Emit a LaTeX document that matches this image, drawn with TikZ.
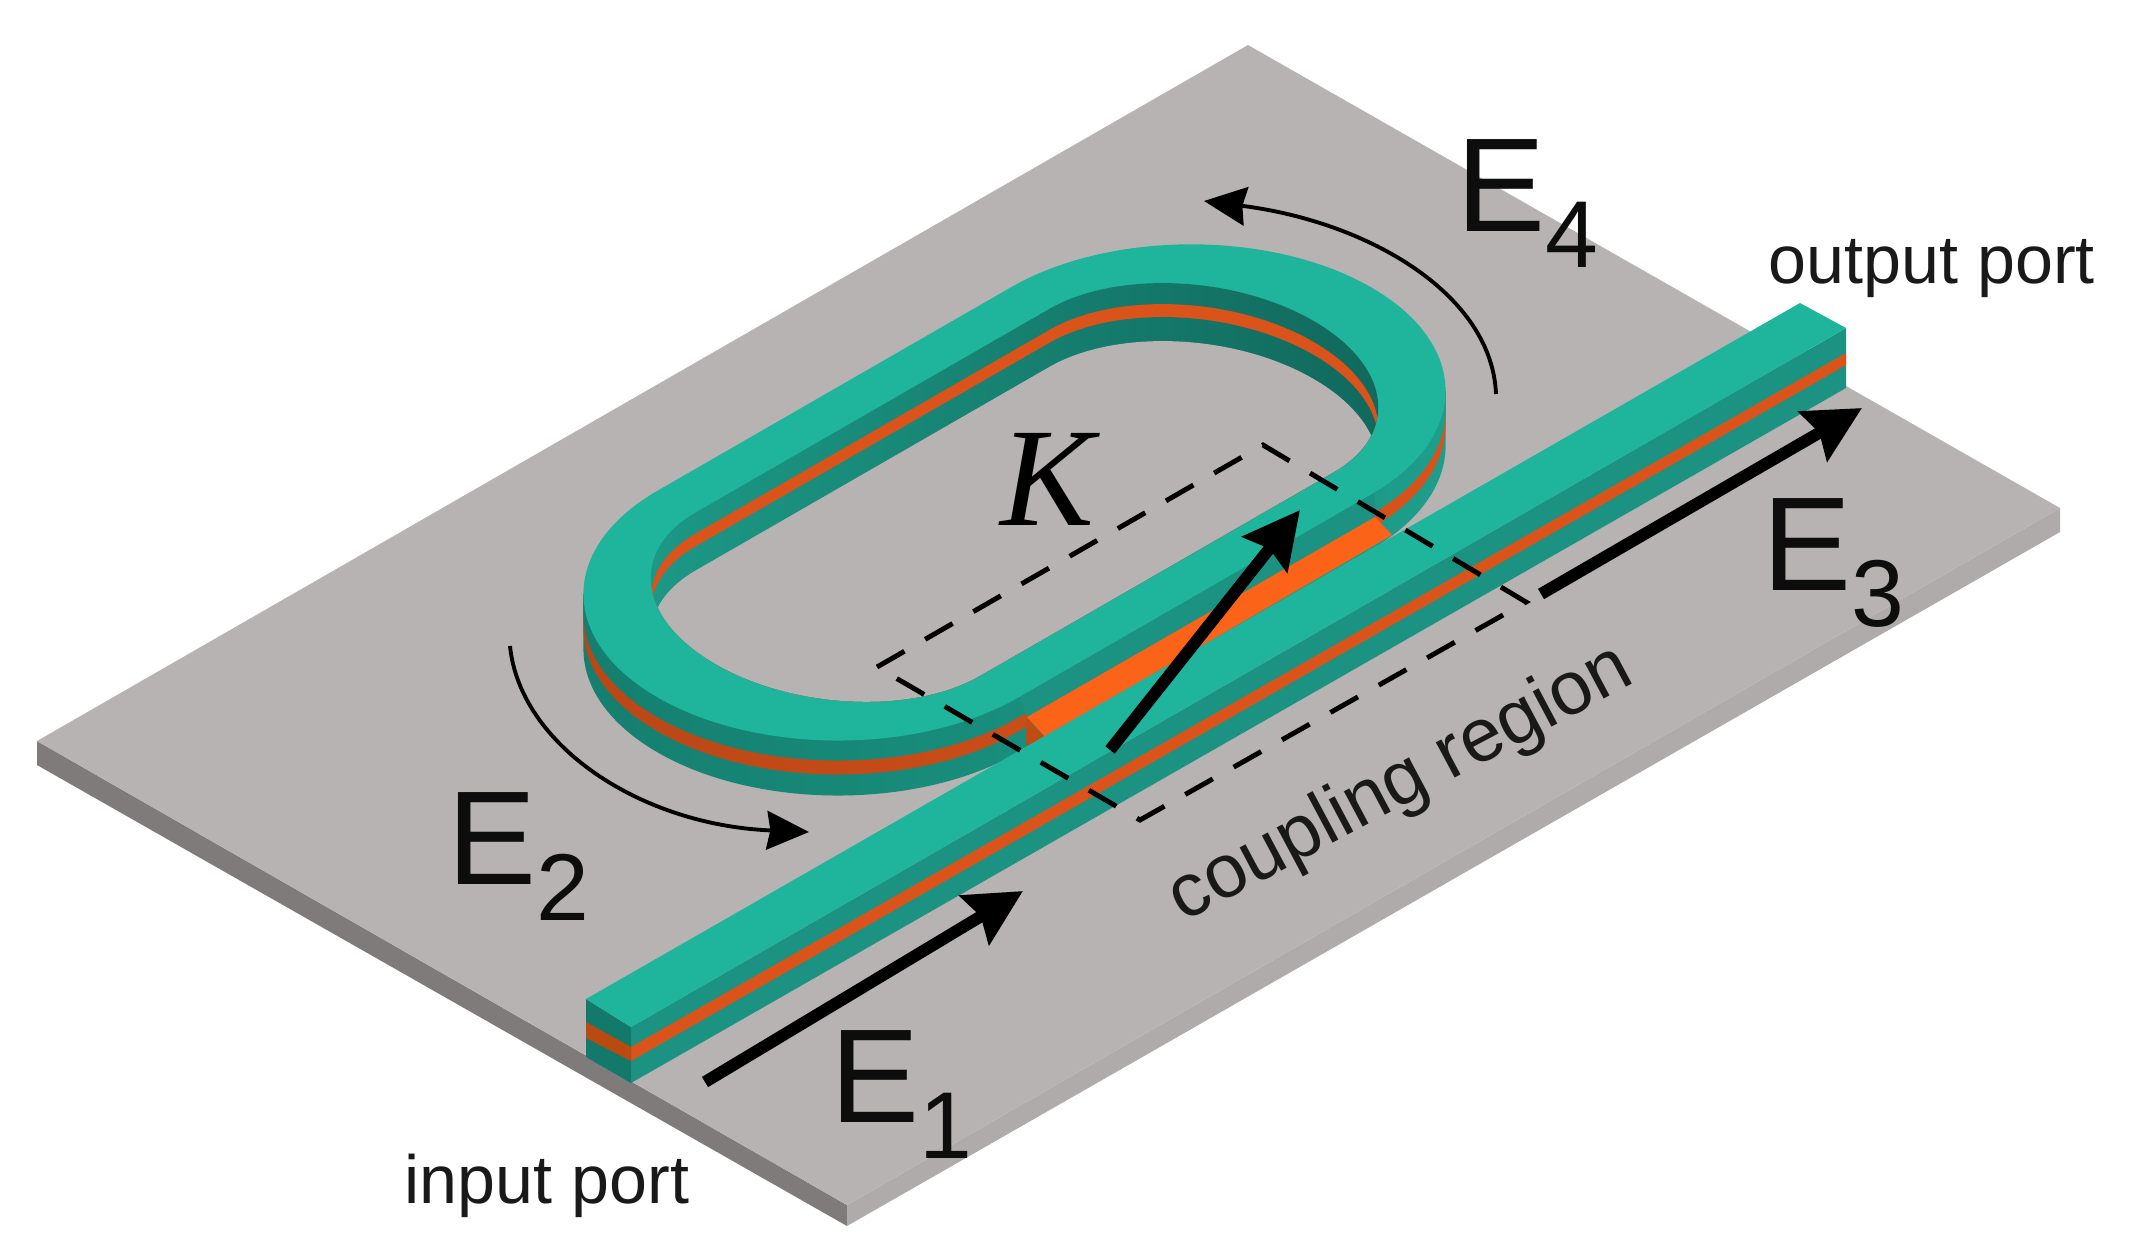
\documentclass[tikz,border=0pt]{standalone}
\usepackage{fontspec}
\setmainfont{Liberation Sans}
\newfontfamily\seriffont{Liberation Serif}
\usetikzlibrary{arrows.meta, calc}

\definecolor{plateTop}{HTML}{B7B3B2}
\definecolor{plateLeft}{HTML}{7F7B7B}
\definecolor{plateRight}{HTML}{AFABAA}
\definecolor{guideTop}{HTML}{1FB49C}
\definecolor{guideSide}{HTML}{1C9382}
\definecolor{guideEnd}{HTML}{137A6B}
\definecolor{guideOrange}{HTML}{D9531A}
\definecolor{endOrange}{HTML}{B94A10}
\definecolor{stripOrange}{HTML}{FB6319}

\tikzset{
  plan/.style={shift={(838,594+#1)}, x={(0.01cm,0.00575cm)}, y={(0.01cm,-0.00575cm)}},
  plan/.default=0,
  outerwall/.style={left color=guideEnd!85!guideSide, middle color=guideSide, right color=guideSide!65!guideTop},
  innerwall/.style={left color=guideSide!80!guideTop, right color=guideEnd!85!black},
  dashbox/.style={line width=1.4pt, dash pattern=on 9pt off 6.8pt},
  bigarrow/.style={line width=3.4pt, -{Stealth[length=16pt, width=16pt, inset=2pt]}},
  thinarrow/.style={line width=1.1pt, -{Stealth[length=12pt, width=11pt, inset=1pt]}},
  portlabel/.style={anchor=base west, font=\fontsize{19.4}{22}\selectfont, text=black!90},
  fieldlabel/.style={anchor=base west, font=\fontsize{38}{40}\selectfont, text=black!95}
}

\newcommand{\ringpath}[2]{(0,#2) -- (353,#2) arc[start angle=90, end angle=-90, x radius=#1, y radius=#2]
  -- (0,-#2) arc[start angle=270, end angle=90, x radius=#1, y radius=#2] -- cycle}
\newcommand{\ringsolid}[2]{\shade[#2] (583.4,594) -- (583.4,594+#1) -- (1445.6,391+#1) -- (1445.6,391) -- cycle
  {[plan=#1] \ringpath{180}{180}};}
\newcommand{\field}[1]{E\raisebox{-0.27em}{\fontsize{27}{27}\selectfont #1}}

\begin{document}
\begin{tikzpicture}[x=0.01cm, y=-0.01cm]

  \useasboundingbox (0,0) rectangle (2132,1256);

  \coordinate (P) at (1248,45);
  \coordinate (Q) at (2060,508);
  \coordinate (R) at (847,1205);
  \coordinate (S) at (37,741);

  \fill[plateLeft] (S) -- (R) -- ($ (R)+(0,21) $) -- ($ (S)+(0,24) $) -- cycle;
  \fill[plateRight] (R) -- (Q) -- ($ (Q)+(0,24) $) -- ($ (R)+(0,21) $) -- cycle;
  \fill[plateTop] (P) -- (Q) -- (R) -- (S) -- cycle;

  % ring
  \ringsolid{55}{outerwall}
  \shade[left color=guideOrange!85!black, right color=guideOrange] (583.4,594) -- (583.4,628) -- (1445.6,425) -- (1445.6,391) -- cycle
    {[plan=34] \ringpath{180}{180}};
  \ringsolid{20}{outerwall}

  \fill[guideSide] (1018,690) -- (1375,487) -- (1375,517) -- (1027,717) -- cycle;
  \fill[stripOrange] (1027,717) -- (1375,517) -- (1392,535) -- (1045,737) -- cycle;
  \fill[endOrange!90!stripOrange] (1026,718) -- (1045,737) -- (1026,746) -- cycle;

  \fill[guideTop, plan] \ringpath{180}{180};

  \begin{scope}
    \clip[plan] \ringpath{122}{142};
    \shade[innerwall, plan] \ringpath{122}{142};
    \fill[guideOrange, plan=21] \ringpath{122}{142};
    \shade[innerwall, plan=34] \ringpath{122}{142};
    \fill[plateTop, plan=58] \ringpath{122}{142};
  \end{scope}

  % straight guide
  \coordinate (A) at (586,999);
  \coordinate (B) at (631,1027);
  \coordinate (C) at (1846,328);
  \coordinate (D) at (1800,303);

  \fill[guideSide] (B) -- (C) -- ($ (C)+(0,60) $) -- ($ (B)+(0,56) $) -- cycle;
  \fill[guideOrange] ($ (B)+(0,20) $) -- ($ (C)+(0,25) $) -- ($ (C)+(0,37) $) -- ($ (B)+(0,34) $) -- cycle;
  \fill[guideEnd] (A) -- (B) -- ($ (B)+(0,56) $) -- ($ (A)+(0,58) $) -- cycle;
  \fill[endOrange] ($ (A)+(0,23) $) -- ($ (B)+(0,20) $) -- ($ (B)+(0,34) $) -- ($ (A)+(0,39) $) -- cycle;
  \fill[guideTop] (A) -- (B) -- (C) -- (D) -- cycle;

  % coupling box
  \coordinate (W) at (877,667);
  \coordinate (X) at (1263,445);
  \coordinate (Y) at (1526,602);
  \coordinate (Z) at (1140,820);
  \draw[dashbox] (W) -- (X) -- (Y) -- (Z) -- cycle;

  % arrows
  \coordinate (k1) at (1110,750);
  \coordinate (k2) at (1300,510);
  \coordinate (e1a) at (705,1082);
  \coordinate (e1b) at (1023,891);
  \coordinate (e3a) at (1541,594);
  \coordinate (e3b) at (1862,408);
  \coordinate (e2a) at (510,646);
  \coordinate (e2b) at (809,832);
  \coordinate (e4a) at (1496,394);
  \coordinate (e4b) at (1204,201);

  \draw[bigarrow] (k1) -- (k2);
  \draw[bigarrow] (e1a) -- (e1b);
  \draw[bigarrow] (e3a) -- (e3b);
  \draw[thinarrow] (e2a) .. controls (520,745) and (640,825) .. (e2b);
  \draw[thinarrow] (e4a) .. controls (1492,295) and (1370,222) .. (e4b);

  \node[anchor=base west, inner sep=0pt, font=\seriffont\itshape\fontsize{40}{42}\selectfont] (kappa) at (1000,525) {K};
  \node[fieldlabel, inner sep=0pt] (e1) at (830,1122) {\field{1}};
  \node[fieldlabel, inner sep=0pt] (e2) at (447,884) {\field{2}};
  \node[fieldlabel, inner sep=0pt] (e3) at (1762,590) {\field{3}};
  \node[fieldlabel, inner sep=0pt] (e4) at (1456,231) {\field{4}};

  \node[portlabel, inner sep=0pt] (input) at (404,1203) {input port};
  \node[portlabel, inner sep=0pt] (output) at (1768,283) {output port};
  \node[rotate=28, font=\fontsize{21.5}{24}\selectfont, text=black!90] (region) at (1401,785) {coupling region};

\end{tikzpicture}
\end{document}
